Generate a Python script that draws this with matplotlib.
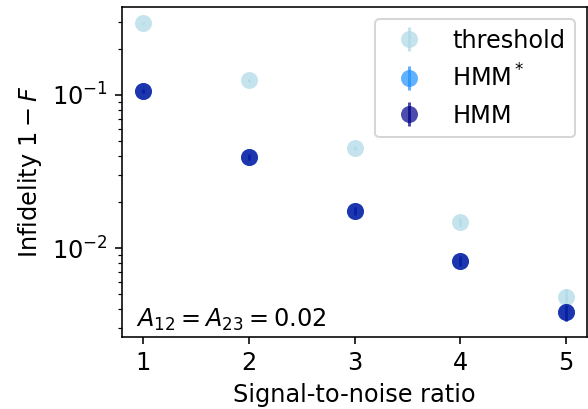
import numpy as np
import matplotlib.pyplot as plt

snr = np.array([1, 2, 3, 4, 5])
infid_threshold = np.array([0.296, 0.125, 0.0451, 0.0148, 0.00479])
err_threshold = np.array([0.004, 0.003, 0.0015, 0.0008, 0.0006])
infid_hmm_star = np.array([0.106, 0.0394, 0.0175, 0.00822, 0.00382])
err_hmm_star = np.array([0.003, 0.002, 0.001, 0.0006, 0.0005])
infid_hmm = np.array([0.106, 0.0394, 0.0175, 0.00822, 0.00382])
err_hmm = np.array([0.003, 0.002, 0.001, 0.0006, 0.0005])

plt.rcParams['font.size'] = 12

fig, ax = plt.subplots(figsize=(588 / 144, 409 / 144), dpi=144)
fig.subplots_adjust(left=0.208, right=0.998, top=0.983, bottom=0.176)

ax.errorbar(snr, infid_threshold, yerr=err_threshold, fmt='o', ms=8.5, mew=0,
            color='lightblue', alpha=0.7, label='threshold')
ax.errorbar(snr, infid_hmm_star, yerr=err_hmm_star, fmt='o', ms=8.5, mew=0,
            color='dodgerblue', alpha=0.7, label='HMM$^*$')
ax.errorbar(snr, infid_hmm, yerr=err_hmm, fmt='o', ms=8.5, mew=0,
            color='darkblue', alpha=0.7, label='HMM')

ax.set_yscale('log')
ax.set_ylim(0.00262, 0.376)
ax.set_xticks(snr)
ax.set_xlabel('Signal-to-noise ratio')
ax.set_ylabel('Infidelity $1-F$')
ax.text(0.03, 0.03, '$A_{12} = A_{23} = 0.02$', transform=ax.transAxes)
ax.legend(loc='upper right')

fig.savefig('out.png')
